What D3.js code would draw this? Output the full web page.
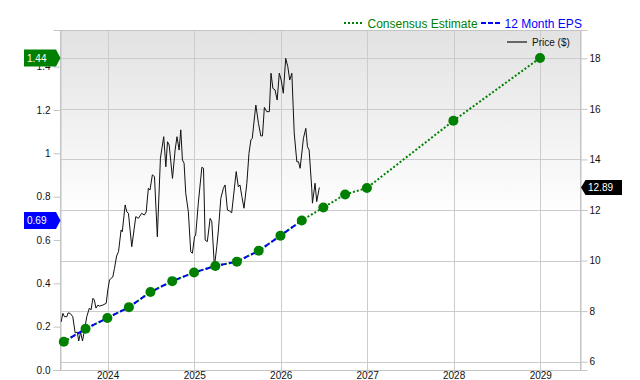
<!DOCTYPE html>
<html><head><meta charset="utf-8">
<script src="https://cdn.jsdelivr.net/npm/d3@7"></script>
<style>
body{margin:0;background:#fff;}
svg{display:block;font-family:"Liberation Sans",Arial,Helvetica,sans-serif;}
</style>
</head><body>
<svg id="chart" width="640" height="380"></svg>
<script>
// ---------- DATA ----------
const consensusDates = ["2023-06-30","2023-09-30","2023-12-31","2024-03-31","2024-06-30","2024-09-30","2024-12-31","2025-03-31","2025-06-30","2025-09-30","2025-12-31","2026-03-31","2026-06-30","2026-09-30","2026-12-31","2027-12-31","2028-12-31"];
const consensusValues = [0.13,0.19,0.24,0.29,0.36,0.41,0.45,0.48,0.50,0.55,0.62,0.69,0.75,0.81,0.84,1.15,1.44];
const epsDates = ["2023-06-30","2023-09-30","2023-12-31","2024-03-31","2024-06-30","2024-09-30","2024-12-31","2025-03-31","2025-06-30","2025-09-30","2025-12-31","2026-03-31"];
const epsValues = [0.13,0.19,0.24,0.29,0.36,0.41,0.45,0.48,0.50,0.55,0.62,0.69];
const priceDates = ["2023-06-19","2023-06-26","2023-07-03","2023-07-13","2023-07-18","2023-07-27","2023-08-07","2023-08-17","2023-08-26","2023-09-01","2023-09-09","2023-09-17","2023-09-28","2023-10-05","2023-10-16","2023-10-23","2023-10-31","2023-11-06","2023-11-13","2023-11-21","2023-11-27","2023-12-12","2023-12-26",
"2024-01-02","2024-01-09","2024-01-16","2024-01-23","2024-01-30","2024-02-08","2024-02-16","2024-02-27","2024-03-03","2024-03-15","2024-03-22","2024-03-29","2024-04-12","2024-04-29","2024-05-10","2024-05-24","2024-06-04","2024-06-12","2024-06-21","2024-06-28","2024-07-08","2024-07-17","2024-07-29","2024-08-11","2024-08-25","2024-09-03","2024-09-10","2024-09-17","2024-10-01","2024-10-12","2024-10-20","2024-10-29","2024-11-05","2024-11-12","2024-11-19","2024-11-26","2024-12-07","2024-12-17","2024-12-24",
"2025-01-02","2025-01-07","2025-01-18","2025-02-02","2025-02-09","2025-02-16","2025-02-25","2025-03-09","2025-03-16","2025-03-27","2025-04-06","2025-04-13","2025-04-23","2025-05-04","2025-05-11","2025-05-21","2025-05-30","2025-06-08","2025-06-27","2025-07-06","2025-07-13","2025-07-21","2025-07-30","2025-08-11","2025-08-20","2025-08-28","2025-09-03","2025-09-11","2025-09-18","2025-09-29","2025-10-09","2025-10-16","2025-10-24","2025-11-03","2025-11-14","2025-11-21","2025-11-29","2025-12-08","2025-12-17","2025-12-26",
"2026-01-03","2026-01-12","2026-01-22","2026-01-31","2026-02-08","2026-02-17","2026-02-27","2026-03-10","2026-03-17","2026-03-24","2026-04-07","2026-04-17","2026-04-24","2026-05-01","2026-05-12","2026-05-15","2026-05-26","2026-06-02","2026-06-13"];
const priceValues = [7.58,7.91,7.78,7.78,7.93,7.91,7.78,7.14,7.17,6.82,7.17,6.82,7.38,7.78,8.12,8.05,8.51,8.44,8.12,8.24,8.20,8.24,8.31,
8.84,9.23,9.30,9.35,9.69,10.18,10.35,11.21,11.14,12.20,11.93,11.87,10.55,11.74,11.67,11.87,11.80,11.92,12.86,12.79,13.39,13.32,10.94,14.05,14.90,13.71,14.70,14.57,13.25,14.37,14.90,14.37,15.17,13.98,13.85,12.66,11.93,10.35,10.29,
10.94,11.01,12.27,13.69,13.65,10.81,10.75,11.67,11.54,9.76,10.55,11.21,12.46,12.86,12.99,12.00,11.96,11.89,13.52,12.92,12.99,12.53,12.07,13.06,14.24,14.77,14.84,15.56,16.15,15.43,14.93,14.93,16.06,15.89,15.89,17.41,16.81,16.75,16.35,17.41,
17.14,16.62,18.00,17.67,17.14,17.41,15.05,13.91,13.91,13.65,14.84,15.23,14.50,14.37,12.86,12.27,13.06,12.33,12.89];
const yearTicks = ["2024","2025","2026","2027","2028","2029"];
const epsTicks = [0,0.2,0.4,0.6,0.8,1,1.2,1.4];
const epsTickLabels = ["0.0","0.2","0.4","0.6","0.8","1","1.2","1.4"];
const priceTicks = [6,8,10,12,14,16,18];

// ---------- SETUP ----------
const parse = d3.utcParse("%Y-%m-%d");
const svg = d3.select("#chart");
const L = 60, R = 581, T = 30, B = 370;
const GREEN = "#008000", BLUE = "#0000ff";

const x = d3.scaleUtc().domain([parse("2023-06-14"), parse("2029-06-22")]).range([L, R]);
const yL = d3.scaleLinear().domain([0, 1.569]).range([B, T]);
const yR = d3.scaleLinear().domain([5.672, 19.12]).range([B, T]);

// background gradient
const defs = svg.append("defs");
const grad = defs.append("linearGradient").attr("id","bg").attr("x1",0).attr("y1",0).attr("x2",0).attr("y2",1);
grad.append("stop").attr("offset","0%").attr("stop-color","#e2e2e2");
grad.append("stop").attr("offset","55%").attr("stop-color","#ffffff");
grad.append("stop").attr("offset","100%").attr("stop-color","#ffffff");
svg.append("rect").attr("x",L).attr("y",T).attr("width",R-L).attr("height",B-T).attr("fill","url(#bg)");

// horizontal gridlines (price axis)
svg.append("g").selectAll("line").data(priceTicks).join("line")
  .attr("x1",L).attr("x2",R).attr("y1",d=>Math.round(yR(d))+0.5).attr("y2",d=>Math.round(yR(d))+0.5)
  .attr("stroke","#cccccc").attr("stroke-width",1);

// vertical gridlines + bottom axis
const yearDates = yearTicks.map(y => parse(y + "-01-01"));
svg.append("g").selectAll("line").data(yearDates).join("line")
  .attr("x1",d=>Math.round(x(d))+0.5).attr("x2",d=>Math.round(x(d))+0.5).attr("y1",T).attr("y2",B+5)
  .attr("stroke","#cccccc").attr("stroke-width",1);

const xAxis = svg.append("g").attr("transform",`translate(0,${B})`)
  .call(d3.axisBottom(x).tickValues(yearDates).tickFormat(d3.utcFormat("%Y")).tickSize(0));
xAxis.select(".domain").remove();
xAxis.selectAll("text").attr("y",9).attr("dy",0).attr("font-size","10px").attr("fill","#111").attr("font-family",null);

// frame
svg.append("rect").attr("x",L+0.5).attr("y",T+0.5).attr("width",R-L-1).attr("height",B-T)
  .attr("fill","none").attr("stroke","#c4c4c4");

// left axis
const leftAx = svg.append("g").attr("transform",`translate(${L+0.5},0)`)
  .call(d3.axisLeft(yL).tickValues(epsTicks).tickFormat((d,i)=>epsTickLabels[i]).tickSize(7).tickPadding(3));
leftAx.select(".domain").attr("stroke","#c4c4c4");
leftAx.selectAll(".tick line").attr("stroke","#c4c4c4");
leftAx.selectAll("text").attr("font-size","10px").attr("fill","#111").attr("font-family",null);

// right axis
const rightAx = svg.append("g").attr("transform",`translate(${R-0.5},0)`)
  .call(d3.axisRight(yR).tickValues(priceTicks).tickSize(7).tickPadding(2));
rightAx.select(".domain").attr("stroke","#c4c4c4");
rightAx.selectAll(".tick line").attr("stroke","#c4c4c4");
rightAx.selectAll("text").attr("font-size","10px").attr("fill","#111").attr("font-family",null);

// price line
const priceData = priceDates.map((d,i)=>({d:parse(d), v:priceValues[i]}));
svg.append("path").datum(priceData)
  .attr("d", d3.line().x(p=>x(p.d)).y(p=>yR(p.v)))
  .attr("fill","none").attr("stroke","#111").attr("stroke-width",1).attr("stroke-linejoin","miter");

// consensus (dotted) and EPS (dashed)
const consData = consensusDates.map((d,i)=>({d:parse(d), v:consensusValues[i]}));
const epsData = epsDates.map((d,i)=>({d:parse(d), v:epsValues[i]}));
const lineL = d3.line().x(p=>x(p.d)).y(p=>yL(p.v));
svg.append("path").datum(consData).attr("d",lineL)
  .attr("fill","none").attr("stroke",GREEN).attr("stroke-width",2).attr("stroke-dasharray","2,2");
svg.append("path").datum(epsData).attr("d",lineL)
  .attr("fill","none").attr("stroke",BLUE).attr("stroke-width",2).attr("stroke-dasharray","5,3");
svg.append("g").selectAll("circle").data(consData).join("circle")
  .attr("cx",p=>x(p.d)).attr("cy",p=>yL(p.v)).attr("r",5).attr("fill",GREEN);

// badges
function leftBadge(v, color){
  const cy = yL(v);
  const g = svg.append("g");
  g.append("path").attr("d",`M24,${cy-8.5}H56L60.5,${cy}L56,${cy+8.5}H24Z`).attr("fill",color);
  g.append("text").attr("x",27).attr("y",cy+3.6).attr("font-size","10px").attr("fill","#fff").text(d3.format(".2f")(v));
}
leftBadge(consensusValues[consensusValues.length-1], GREEN);
leftBadge(epsValues[epsValues.length-1], BLUE);
{
  const v = priceValues[priceValues.length-1];
  const cy = yR(v);
  const g = svg.append("g");
  g.append("path").attr("d",`M581,${cy}L585.5,${cy-7.5}H622V${cy+7.5}H585.5Z`).attr("fill","#000");
  g.append("text").attr("x",588).attr("y",cy+3.6).attr("font-size","10px").attr("fill","#fff").text(d3.format(".2f")(v));
}

// top legend
const lg = svg.append("g");
lg.append("line").attr("x1",344).attr("x2",363).attr("y1",23).attr("y2",23).attr("stroke",GREEN).attr("stroke-width",2).attr("stroke-dasharray","2,2");
lg.append("text").attr("x",367.5).attr("y",27.5).attr("font-size","12px").attr("fill",GREEN).text("Consensus Estimate");
lg.append("line").attr("x1",481).attr("x2",502).attr("y1",23).attr("y2",23).attr("stroke",BLUE).attr("stroke-width",2).attr("stroke-dasharray","5,2");
lg.append("text").attr("x",504.5).attr("y",27.5).attr("font-size","12px").attr("fill",BLUE).text("12 Month EPS");
// price legend
lg.append("line").attr("x1",507).attr("x2",527).attr("y1",42).attr("y2",42).attr("stroke","#666").attr("stroke-width",2);
lg.append("text").attr("x",532).attr("y",45.5).attr("font-size","10px").attr("fill","#111").text("Price ($)");
</script>
</body></html>
